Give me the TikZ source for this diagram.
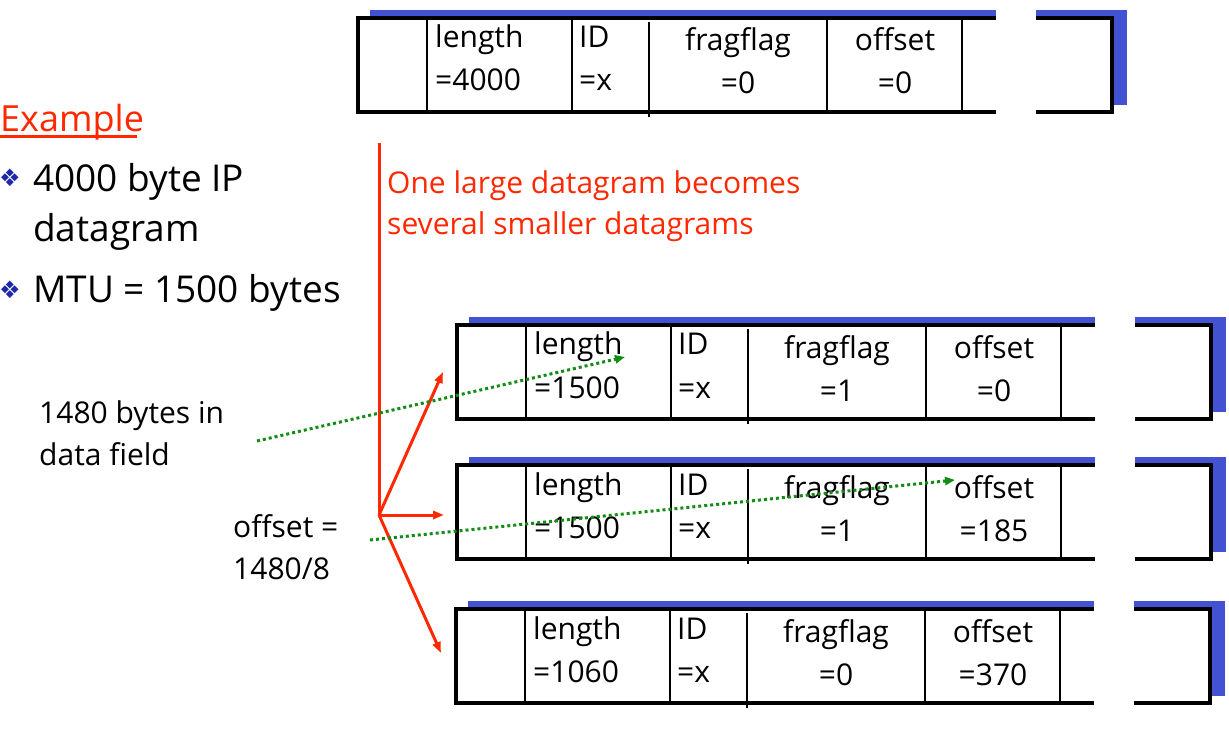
\documentclass[tikz,border=0pt]{standalone}
\usepackage{fontspec}
\setmainfont{Open Sans}
\newfontfamily\symfont{DejaVu Sans}
\usetikzlibrary{arrows.meta}
\definecolor{shadowblue}{RGB}{66,82,210}
\definecolor{exred}{RGB}{255,40,0}
\definecolor{dotgreen}{RGB}{20,140,20}
\definecolor{bulletblue}{RGB}{30,40,170}
\tikzset{
  lbl/.style={anchor=base west, inner sep=0pt, font=\fontsize{30}{34}\selectfont},
  clbl/.style={anchor=base, inner sep=0pt, font=\fontsize{30}{34}\selectfont},
  boxline/.style={line width=3.6pt, line join=miter},
  divline/.style={line width=2.3pt},
  bigtxt/.style={anchor=base west, inner sep=0pt, font=\fontsize{37}{44}\selectfont},
  redtxt/.style={anchor=base west, inner sep=0pt, text=exred, font=\fontsize{30}{36}\selectfont},
  sidetxt/.style={anchor=base west, inner sep=0pt, font=\fontsize{30}{36}\selectfont},
  bulletsym/.style={inner sep=0pt, text=bulletblue, font=\symfont\fontsize{24}{26}\selectfont},
  redarrow/.style={exred, line width=3pt, -{Triangle[length=11pt,width=8pt]}},
  greenarrow/.style={dotgreen, line width=3pt, dash pattern=on 3pt off 3pt, -{Triangle[length=10pt,width=8pt]}}
}
\newcommand\dgbox[6]{%
\begin{scope}[shift={(#2,#3)}]
  \fill[shadowblue] (12,-8) rectangle (638,87);
  \fill[shadowblue] (678,-8) rectangle (769,87);
  \fill[white] (0,0) rectangle (638,94);
  \fill[white] (678,0) rectangle (754,94);
  \draw[boxline] (638,0) -- (0,0) -- (0,94) -- (638,94);
  \draw[boxline] (678,0) -- (754,0) -- (754,94) -- (678,94);
  \draw[divline] (69,0) -- (69,94);
  \draw[divline] (214,0) -- (214,94);
  \draw[divline] (291,4) -- (291,99);
  \draw[divline] (469,0) -- (469,94);
  \draw[divline] (604,0) -- (604,94);
  \node[lbl] (#1-len) at (77,30) {length};
  \node[lbl] (#1-lenv) at (77,73) {=#4};
  \node[lbl] (#1-id) at (221,30) {ID};
  \node[lbl] (#1-idv) at (221,73) {=x};
  \node[clbl] (#1-flag) at (380,33) {fragflag};
  \node[clbl] (#1-flagv) at (380,76) {=#5};
  \node[clbl] (#1-off) at (537,33) {offset};
  \node[clbl] (#1-offv) at (537,76) {=#6};
\end{scope}}
\begin{document}
\begin{tikzpicture}[x=1pt,y=-1pt]
\useasboundingbox (0,0) rectangle (1229,735);
\fill[white] (0,0) rectangle (1229,735);

% datagrams
\dgbox{d0}{358}{18}{4000}{0}{0}
\dgbox{d1}{457}{325}{1500}{1}{0}
\dgbox{d2}{457}{465}{1500}{1}{185}
\dgbox{d3}{456}{609}{1060}{0}{370}

% left text
\node[anchor=base west, inner sep=0pt, text=exred, font=\fontsize{36}{42}\selectfont] (ex) at (0,132) {Example};
\draw[exred, line width=3pt] (ex.base west) ++(0,5) coordinate (ul1) -- ++(137,0) coordinate (ul2);
\node[bulletsym] (b1) at (10,178) {❖};
\node[bigtxt] (t1) at (33,192) {4000 byte IP};
\node[bigtxt] (t2) at (33,242) {datagram};
\node[bulletsym] (b2) at (10,290) {❖};
\node[bigtxt] (t3) at (33,303) {MTU = 1500 bytes};

\node[redtxt] (r1) at (387,194) {One large datagram becomes};
\node[redtxt] (r2) at (387,235) {several smaller datagrams};

\node[sidetxt] (s1) at (39,423) {1480 bytes in};
\node[sidetxt] (s2) at (39,465) {data field};
\node[sidetxt] (o1) at (233,537) {offset =};
\node[sidetxt] (o2) at (233,579) {1480/8};

% red connectors
\coordinate (vtop) at (379,143);
\coordinate (split) at (379,515);
\coordinate (e1) at (443,372);
\coordinate (e2) at (444,515);
\coordinate (e3) at (441,653);
\draw[exred, line width=3pt] (vtop) -- (split);
\draw[redarrow] (split) -- (e1);
\draw[redarrow] (split) -- (e2);
\draw[redarrow] (split) -- (e3);

% green dotted connectors
\coordinate (g1s) at (257,441);
\coordinate (g1e) at (625,357);
\coordinate (g2s) at (370,540);
\coordinate (g2e) at (955,480);
\draw[greenarrow] (g1s) -- (g1e);
\draw[greenarrow] (g2s) -- (g2e);
\end{tikzpicture}
\end{document}
